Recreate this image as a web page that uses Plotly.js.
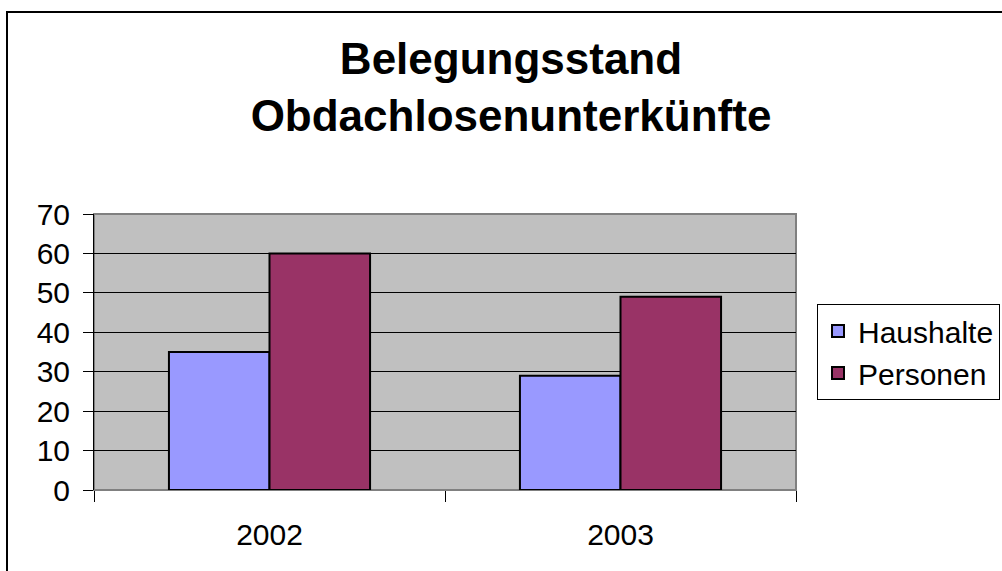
<!DOCTYPE html>
<html>
<head>
<meta charset="utf-8">
<script src="https://cdn.plot.ly/plotly-3.0.1.min.js"></script>
<style>
html,body{margin:0;padding:0;background:#fff;}
#chart{width:1002px;height:571px;}
</style>
</head>
<body>
<div id="chart"></div>
<script>
const categories = ["2002", "2003"];
const haushalte = [35, 29];
const personen = [60, 49];
const seriesNames = ["Haushalte", "Personen"];
const yTicks = [0, 10, 20, 30, 40, 50, 60, 70];

const FONT = '"Liberation Sans", Arial, sans-serif';

const traces = [
  {type: 'bar', name: seriesNames[0], x: categories, y: haushalte,
   marker: {color: '#9999FF', line: {color: '#000000', width: 2}}},
  {type: 'bar', name: seriesNames[1], x: categories, y: personen,
   marker: {color: '#993366', line: {color: '#000000', width: 2}}}
];

const L = 94, R = 796, T = 214, B = 490, W = 1002, H = 571;
const pw = R - L, ph = B - T;
function px(x){ return (x - L) / pw; }
function py(y){ return (B - y) / ph; }

const layout = {
  width: W, height: H,
  margin: {l: L, r: W - R, t: T, b: H - B, pad: 0, autoexpand: false},
  paper_bgcolor: '#ffffff',
  plot_bgcolor: '#c0c0c0',
  font: {family: FONT, color: '#000000', size: 30},
  title: {
    text: 'Belegungsstand<br>Obdachlosenunterkünfte',
    font: {family: FONT, size: 44, color: '#000000', weight: 'bold'},
    x: 511 / W, xanchor: 'center',
    y: 1 - 74 / H, yanchor: 'top', yref: 'container'
  },
  barmode: 'group',
  bargap: 0.427,
  bargroupgap: 0,
  showlegend: true,
  legend: {
    x: px(817), xanchor: 'left',
    y: py(304), yanchor: 'top',
    bgcolor: '#ffffff', bordercolor: '#000000', borderwidth: 1,
    font: {family: FONT, size: 30, color: '#000000'},
    traceorder: 'normal'
  },
  xaxis: {
    type: 'category',
    tickson: 'boundaries',
    ticks: 'outside', ticklen: 11, tickcolor: '#000000', tickwidth: 1,
    showline: false,
    showgrid: false,
    tickfont: {family: FONT, size: 30, color: '#000000'},
    ticklabelstandoff: 24,
    fixedrange: true
  },
  yaxis: {
    range: [0, 70],
    tickvals: yTicks,
    ticktext: yTicks.map(String),
    ticks: 'outside', ticklen: 10, tickcolor: '#000000', tickwidth: 1,
    showline: true, linecolor: '#000000', linewidth: 1,
    showgrid: true, gridcolor: '#000000', gridwidth: 1,
    zeroline: false,
    tickfont: {family: FONT, size: 30, color: '#000000'},
    ticklabelstandoff: 7,
    fixedrange: true
  },
  shapes: [
    {type: 'rect', xref: 'paper', yref: 'paper', x0: 0, x1: 1, y0: 0, y1: 1,
     line: {color: '#808080', width: 2}, fillcolor: 'rgba(0,0,0,0)', layer: 'below'},
    {type: 'rect', xref: 'paper', yref: 'paper',
     x0: px(7), x1: px(1040), y0: py(600), y1: py(12),
     line: {color: '#000000', width: 2}, fillcolor: 'rgba(0,0,0,0)', layer: 'above'}
  ]
};

Plotly.newPlot('chart', traces, layout, {displayModeBar: false, staticPlot: true});
</script>
</body>
</html>
